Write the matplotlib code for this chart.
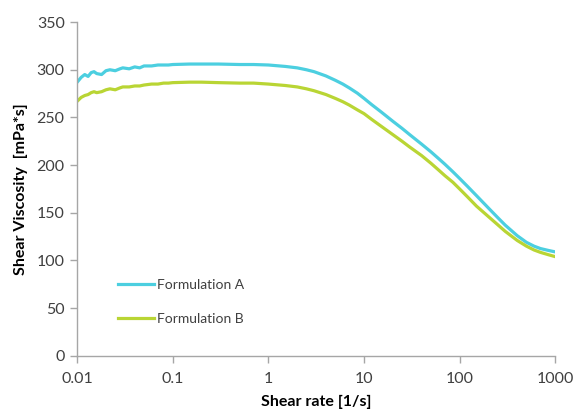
import matplotlib.pyplot as plt
from matplotlib.ticker import FixedLocator, FixedFormatter

# shear rate [1/s]
shear_rate = [0.010, 0.011, 0.012, 0.013, 0.014, 0.015, 0.016, 0.018, 0.020, 0.022,
              0.025, 0.028, 0.030, 0.035, 0.040, 0.045, 0.050, 0.060, 0.070, 0.080,
              0.090, 0.10, 0.15, 0.20, 0.30, 0.50, 0.70, 1.0, 1.5, 2.0,
              2.5, 3.0, 4.0, 5.0, 6.0, 7.0, 8.5, 10, 12, 15,
              20, 25, 30, 40, 50, 60, 70, 85, 100, 120,
              150, 200, 250, 300, 400, 500, 600, 700, 850, 1000]

visc_a = [287, 292, 295, 293, 297, 298, 296, 295, 299, 300,
          299, 301, 302, 301, 303, 302, 304, 304, 305, 305,
          305, 305.5, 306, 306, 306, 305.5, 305.5, 305, 303.5, 302,
          300, 298, 293.5, 289, 285, 281, 275.5, 270, 263.5, 256,
          246, 238.5, 232, 222, 214, 207, 201, 193, 186, 178,
          168, 155, 145, 137, 126, 119, 115, 112.5, 110.5, 109]

visc_b = [267, 271, 273, 274, 276, 277, 276, 277, 279, 280,
          279, 281, 282, 282, 283, 283, 284, 285, 285, 286,
          286, 286.5, 287, 287, 286.5, 286, 286, 285, 283.5, 282,
          280, 278, 274, 270, 266.5, 263, 258, 254, 248, 241,
          232, 225, 219, 210, 202, 195, 189, 182, 175, 167,
          157, 146, 137.5, 130.5, 121, 115, 111, 108.5, 106, 104]

labels = ["Formulation A", "Formulation B"]
colors = ["#4ccfe0", "#b9d534"]

plt.rcParams["font.family"] = ["Lato", "DejaVu Sans"]
axis_grey = "#a6a6a6"
text_grey = "#404040"

fig = plt.figure(figsize=(5.76, 4.09), dpi=100)
ax = fig.add_axes([0.134, 0.13, 0.830, 0.816])

ax.plot(shear_rate, visc_a, color=colors[0], lw=2.3, label=labels[0])
ax.plot(shear_rate, visc_b, color=colors[1], lw=2.3, label=labels[1])

ax.set_xscale("log")
ax.set_xlim(0.01, 1000)
ax.set_ylim(0, 350)
xt = [0.01, 0.1, 1, 10, 100, 1000]
ax.xaxis.set_major_locator(FixedLocator(xt))
ax.xaxis.set_major_formatter(FixedFormatter(["0.01", "0.1", "1", "10", "100", "1000"]))
ax.xaxis.set_minor_locator(FixedLocator([]))
ax.set_yticks(range(0, 351, 50))

for s in ["top", "right"]:
    ax.spines[s].set_visible(False)
for s in ["left", "bottom"]:
    ax.spines[s].set_color(axis_grey)
    ax.spines[s].set_linewidth(1.0)
ax.tick_params(direction="out", length=5, width=1.0, color=axis_grey,
               labelcolor=text_grey, labelsize=11.5, pad=4)
ax.tick_params(axis="x", pad=7)

ax.set_xlabel("Shear rate [1/s]", fontsize=11.5, fontweight="bold", labelpad=6)
ax.set_ylabel("Shear Viscosity  [mPa*s]", fontsize=11.5, fontweight="bold", labelpad=6)

leg = ax.legend(loc="lower left", bbox_to_anchor=(0.06, 0.055), frameon=False,
                fontsize=10, handlelength=2.6, handletextpad=0.2, labelspacing=1.6)
for t in leg.get_texts():
    t.set_color(text_grey)

fig.savefig("out.png", dpi=100)
